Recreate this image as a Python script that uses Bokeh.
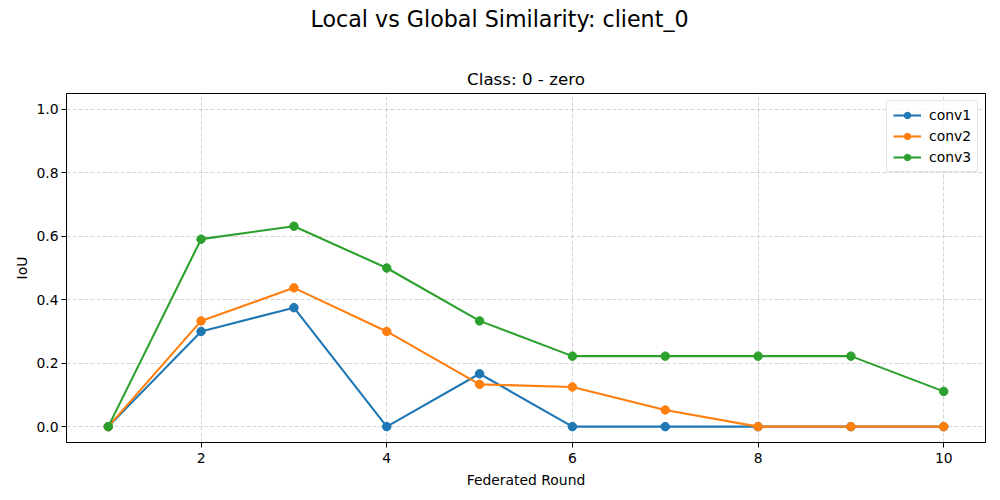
from bokeh.plotting import figure
from bokeh.models import Title, FixedTicker, Legend, LegendItem
from bokeh.embed import file_html
from bokeh.resources import INLINE

rounds = [1, 2, 3, 4, 5, 6, 7, 8, 9, 10]
conv1 = [0.0, 0.3, 0.375, 0.0, 0.1667, 0.0, 0.0, 0.0, 0.0, 0.0]
conv2 = [0.0, 0.3333, 0.4375, 0.3, 0.1333, 0.125, 0.0526, 0.0, 0.0, 0.0]
conv3 = [0.0, 0.5909, 0.6316, 0.5, 0.3333, 0.2222, 0.2222, 0.2222, 0.2222, 0.1111]
series_names = ["conv1", "conv2", "conv3"]
colors = ["#1f77b4", "#ff7f0e", "#2ca02c"]
x_ticks = [2, 4, 6, 8, 10]
y_ticks = [0.0, 0.2, 0.4, 0.6, 0.8, 1.0]

FONT = "DejaVu Sans"

p = figure(width=1000, height=500, output_backend="svg", toolbar_location=None,
           x_range=(0.55, 10.45), y_range=(-0.05, 1.05),
           min_border_left=66, min_border_right=15, min_border_bottom=58, min_border_top=10)

# figure-level title (outermost)
p.title.text = "Local vs Global Similarity: client_0"
p.title.align = "left"
p.title.offset = 244
p.title.text_font = FONT
p.title.text_font_size = "22.2px"
p.title.text_font_style = "normal"
p.title.text_color = "#000000"
p.title.standoff = 6

# axes title (closest to the frame)
sub = Title(text="Class: 0 - zero", align="center",
            text_font=FONT, text_font_size="16.7px", text_font_style="normal",
            text_color="#000000", standoff=10)
p.add_layout(sub, "above")
# blank spacer between the two titles
spacer = Title(text=" ", text_font_size="1px", standoff=24)
p.add_layout(spacer, "above")

p.outline_line_color = "black"
p.outline_line_width = 1
p.background_fill_color = "white"
p.border_fill_color = "white"

for ax in (p.xaxis[0], p.yaxis[0]):
    ax.axis_line_color = "black"
    ax.major_tick_line_color = "black"
    ax.major_tick_out = 5
    ax.major_tick_in = 0
    ax.minor_tick_line_color = None
    ax.major_label_text_font = FONT
    ax.major_label_text_font_size = "13.9px"
    ax.major_label_text_color = "black"
    ax.axis_label_text_font = FONT
    ax.axis_label_text_font_size = "13.9px"
    ax.axis_label_text_font_style = "normal"
    ax.axis_label_text_color = "black"

p.xaxis.major_label_standoff = 5
p.yaxis.major_label_standoff = 3
p.xaxis.ticker = FixedTicker(ticks=x_ticks)
p.yaxis.ticker = FixedTicker(ticks=y_ticks)
p.yaxis.major_label_overrides = {t: f"{t:.1f}" for t in y_ticks}
p.xaxis.axis_label = "Federated Round"
p.yaxis.axis_label = "IoU"
p.xaxis.axis_label_standoff = 6
p.yaxis.axis_label_standoff = 3

for g in (p.xgrid[0], p.ygrid[0]):
    g.grid_line_color = "#b0b0b0"
    g.grid_line_alpha = 0.65
    g.grid_line_dash = "4 2"
    g.grid_line_width = 0.8

items = []
for name, vals, c in zip(series_names, [conv1, conv2, conv3], colors):
    l = p.line(rounds, vals, line_color=c, line_width=2.1)
    s = p.scatter(rounds, vals, size=8.5, fill_color=c, line_color=c)
    items.append(LegendItem(label=name, renderers=[l, s]))

legend = Legend(items=items, location="top_right")
legend.label_text_font = FONT
legend.label_text_font_size = "13.9px"
legend.label_text_color = "black"
legend.border_line_color = "#cccccc"
legend.border_line_width = 1
legend.background_fill_alpha = 0.8
legend.glyph_width = 28
legend.glyph_height = 16
legend.spacing = 5
legend.padding = 6
legend.margin = 7
legend.label_standoff = 8
p.add_layout(legend, "center")

open("out.html", "w").write(file_html(p, INLINE))
